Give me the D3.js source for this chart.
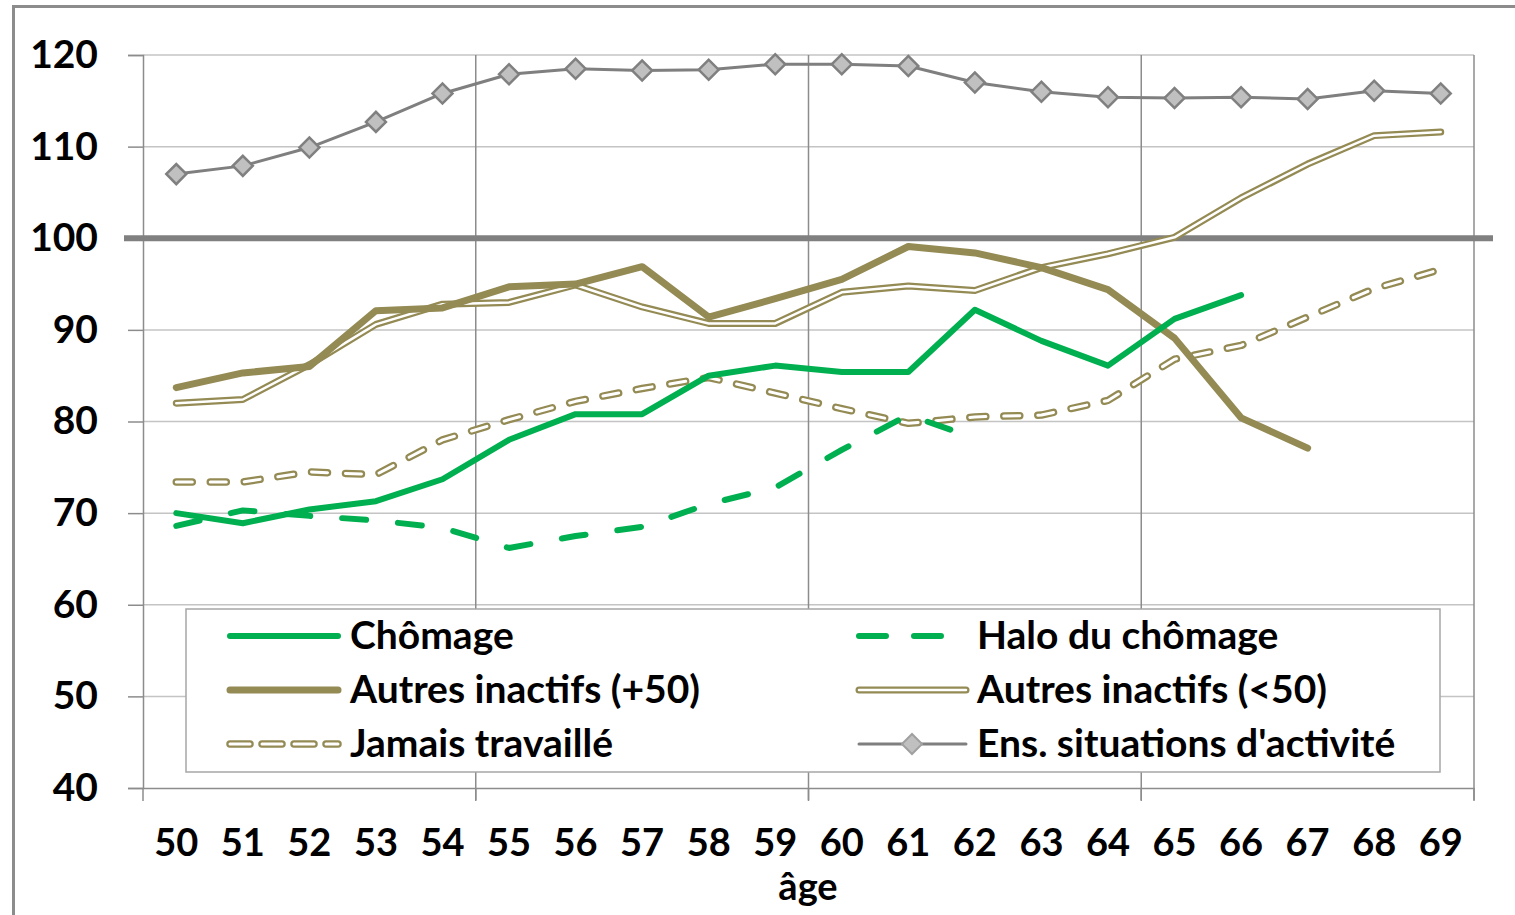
<!DOCTYPE html>
<html>
<head>
<meta charset="utf-8">
<script src="https://cdn.jsdelivr.net/npm/d3@7"></script>
<style>
  body { margin: 0; background: #fff; }
  svg text { font-family: Lato, "Open Sans", sans-serif; font-weight: 700; fill: #000; }
</style>
</head>
<body>
<div id="graph"></div>
<script>
// ages on the x axis
var ages = [50, 51, 52, 53, 54, 55, 56, 57, 58, 59, 60, 61, 62, 63, 64, 65, 66, 67, 68, 69];
var yTicks = [40, 50, 60, 70, 80, 90, 100, 110, 120];

// series values
var chomage   = [70.0, 68.9, 70.4, 71.3, 73.7, 78.0, 80.8, 80.8, 85.0, 86.1, 85.4, 85.4, 92.2, 88.8, 86.1, 91.2, 93.8, null, null, null];
var halo      = [68.6, 70.3, 69.7, 69.2, 68.4, 66.2, 67.5, 68.5, 71.0, 72.8, 76.9, 80.7, 78.2, null, null, null, null, null, null, null];
var autres50  = [83.7, 85.3, 86.0, 92.1, 92.4, 94.7, 95.0, 96.9, 91.4, 93.4, 95.5, 99.1, 98.4, 96.8, 94.4, 89.1, 80.4, 77.1, null, null];
var autresLt50 = [82.0, 82.4, 86.2, 90.6, 92.8, 93.0, 94.9, 92.5, 90.7, 90.7, 94.1, 94.8, 94.3, 96.8, 98.3, 100.1, 104.4, 108.1, 111.2, 111.6];
var jamais    = [73.4, 73.4, 74.5, 74.2, 78.0, 80.2, 82.2, 83.6, 84.8, 83.1, 81.4, 79.8, 80.5, 80.7, 82.3, 86.8, 88.3, 91.4, 94.5, 96.6];
var ensemble  = [107.0, 107.9, 109.9, 112.7, 115.8, 117.9, 118.5, 118.3, 118.4, 119.0, 119.0, 118.8, 117.0, 116.0, 115.4, 115.3, 115.4, 115.2, 116.1, 115.8];
var refLevel = 100;

var legendLabels = ["Chômage", "Halo du chômage", "Autres inactifs (+50)", "Autres inactifs (<50)", "Jamais travaillé", "Ens. situations d'activité"];

var green = "#00b050", olive = "#948a54", grey = "#808080";

var svg = d3.select("#graph").append("svg")
    .attr("width", 1515).attr("height", 915);

// chart border
svg.append("rect")
    .attr("x", 13.5).attr("y", 6.5).attr("width", 1600).attr("height", 1000)
    .attr("fill", "none").attr("stroke", "#8c8c8c").attr("stroke-width", 3);

var x = d3.scaleBand().domain(ages).range([143, 1474]);
var y = d3.scaleLinear().domain([40, 120]).range([788, 55]);
var cx = function(a) { return x(a) + x.bandwidth() / 2; };

// horizontal gridlines
svg.append("g").selectAll("line")
    .data(yTicks.slice(1))
    .enter().append("line")
    .attr("x1", 143).attr("x2", 1474)
    .attr("y1", function(d) { return y(d); }).attr("y2", function(d) { return y(d); })
    .attr("stroke", "#c4c4c4").attr("stroke-width", 1.5);

// vertical gridlines every 5 ages
var vAges = [55, 60, 65];
svg.append("g").selectAll("line")
    .data(vAges)
    .enter().append("line")
    .attr("x1", function(d) { return x(d); }).attr("x2", function(d) { return x(d); })
    .attr("y1", 55).attr("y2", 800)
    .attr("stroke", "#8c8c8c").attr("stroke-width", 1.5);
svg.append("line")
    .attr("x1", 1474).attr("x2", 1474).attr("y1", 55).attr("y2", 800)
    .attr("stroke", "#8c8c8c").attr("stroke-width", 1.5);

// y axis
var yAxis = d3.axisLeft(y).tickValues(yTicks).tickSize(15).tickPadding(30);
var gy = svg.append("g").attr("transform", "translate(143,0)").call(yAxis);
gy.select(".domain").attr("stroke", "#8c8c8c").attr("stroke-width", 1.5);
gy.selectAll(".tick line").attr("stroke", "#8c8c8c").attr("stroke-width", 1.5);
gy.selectAll(".tick text").attr("font-size", 39).attr("font-family", "Lato").attr("font-weight", 700).attr("fill", "#000");

// x axis
var xAxis = d3.axisBottom(x).tickSize(0).tickPadding(41);
var gx = svg.append("g").attr("transform", "translate(0,788)").call(xAxis);
gx.select(".domain").attr("stroke", "#8c8c8c").attr("stroke-width", 1.5);
gx.selectAll(".tick text").attr("font-size", 38).attr("font-family", "Lato").attr("font-weight", 700).attr("fill", "#000");
svg.append("g").selectAll("line")
    .data([50, 55, 60, 65])
    .enter().append("line")
    .attr("x1", function(d) { return x(d); }).attr("x2", function(d) { return x(d); })
    .attr("y1", 788).attr("y2", 801)
    .attr("stroke", "#8c8c8c").attr("stroke-width", 1.5);
svg.append("line").attr("x1", 1474).attr("x2", 1474).attr("y1", 788).attr("y2", 801)
    .attr("stroke", "#8c8c8c").attr("stroke-width", 1.5);

svg.append("text").attr("x", 808).attr("y", 900).attr("text-anchor", "middle")
    .attr("font-size", 38).text("âge");

// reference line at 100
svg.append("line")
    .attr("x1", 124).attr("x2", 1493)
    .attr("y1", y(refLevel)).attr("y2", y(refLevel))
    .attr("stroke", grey).attr("stroke-width", 6);

function pts(values) {
  return ages.map(function(a, i) { return { a: a, v: values[i] }; });
}
var line = d3.line()
    .defined(function(d) { return d.v !== null; })
    .x(function(d) { return cx(d.a); })
    .y(function(d) { return y(d.v); });

function drawPath(values, stroke, width, dash) {
  var p = svg.append("path")
      .datum(pts(values))
      .attr("d", line)
      .attr("fill", "none")
      .attr("stroke", stroke)
      .attr("stroke-width", width)
      .attr("stroke-linejoin", "round")
      .attr("stroke-linecap", "round");
  if (dash) p.attr("stroke-dasharray", dash);
  return p;
}

// Jamais travaillé: outlined dashes
drawPath(jamais, olive, 7.5, "16,18");
drawPath(jamais, "#fff", 3, "16,18");

// Autres inactifs (<50): double line
drawPath(autresLt50, olive, 7);
drawPath(autresLt50, "#fff", 2.5);

// Autres inactifs (+50)
drawPath(autres50, olive, 7);

// Chômage
drawPath(chomage, green, 6);

// Halo du chômage
drawPath(halo, green, 6, "24,32");

// Ens. situations d'activité
drawPath(ensemble, "#7f7f7f", 3);
svg.append("g").selectAll("path")
    .data(pts(ensemble))
    .enter().append("path")
    .attr("d", d3.symbol().type(d3.symbolSquare).size(200))
    .attr("transform", function(d) { return "translate(" + cx(d.a) + "," + y(d.v) + ") rotate(45)"; })
    .attr("fill", "#c0c0c0").attr("stroke", "#808080").attr("stroke-width", 2.5);

// legend
var lg = svg.append("g");
lg.append("rect")
    .attr("x", 186).attr("y", 609).attr("width", 1254).attr("height", 163)
    .attr("fill", "#fff").attr("stroke", "#a6a6a6").attr("stroke-width", 1.5);

var rows = [636, 690, 744];
var cols = [{ x1: 230, x2: 338, tx: 350 }, { x1: 859, x2: 966, tx: 977 }];

function legendLine(col, row, stroke, width, dash) {
  var l = lg.append("line")
      .attr("x1", col.x1).attr("x2", col.x2).attr("y1", row).attr("y2", row)
      .attr("stroke", stroke).attr("stroke-width", width).attr("stroke-linecap", "round");
  if (dash) l.attr("stroke-dasharray", dash);
}
legendLine(cols[0], rows[0], green, 6);
legendLine(cols[1], rows[0], green, 6, "27,28");
legendLine(cols[0], rows[1], olive, 7);
legendLine(cols[1], rows[1], olive, 7);
legendLine(cols[1], rows[1], "#fff", 2.5);
legendLine(cols[0], rows[2], olive, 7.5, "20,12");
legendLine(cols[0], rows[2], "#fff", 3, "20,12");
legendLine(cols[1], rows[2], "#7f7f7f", 3);
lg.append("path")
    .attr("d", d3.symbol().type(d3.symbolSquare).size(200))
    .attr("transform", "translate(912," + rows[2] + ") rotate(45)")
    .attr("fill", "#c0c0c0").attr("stroke", "#a0a0a0").attr("stroke-width", 2);

lg.selectAll("text")
    .data(legendLabels)
    .enter().append("text")
    .attr("x", function(d, i) { return cols[i % 2].tx; })
    .attr("y", function(d, i) { return rows[Math.floor(i / 2)] + 13; })
    .attr("font-size", 39)
    .text(function(d) { return d; });
</script>
</body>
</html>
